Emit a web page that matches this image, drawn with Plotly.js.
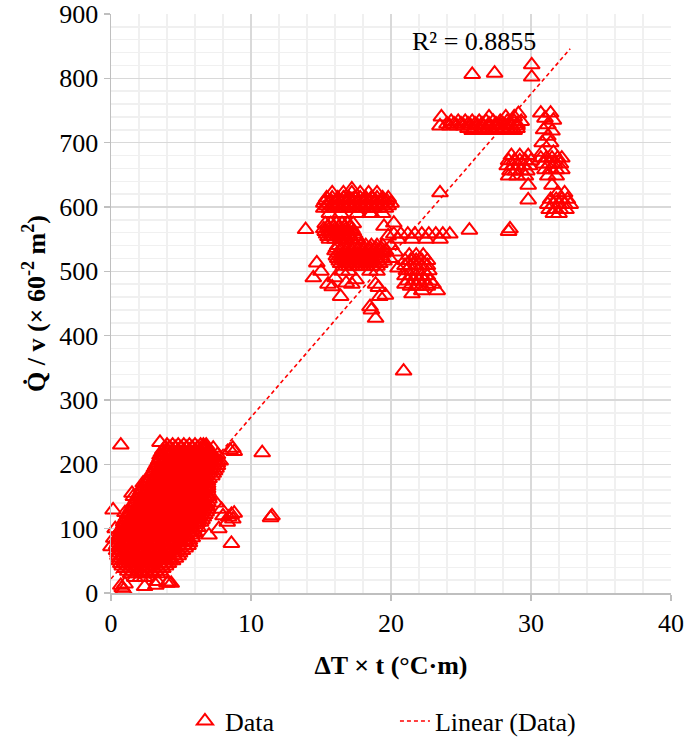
<!DOCTYPE html>
<html>
<head>
<meta charset="utf-8">
<script src="https://cdn.plot.ly/plotly-3.0.1.min.js"></script>
<style>html,body{margin:0;padding:0;background:#fff;}#chart{width:685px;height:738px;}</style>
</head>
<body>
<div id="chart"></div>
<script>
// ---- Data ----
// Dense low cluster, stored as rows: y value and the x values on that row
const lowRowY = [230,222,214,206,198,190,182,174,166,158,150,142,134,126,118,110,102,94,86,78,70,62,54,46,38,30,24,
                 226,218,210,202,194,186,178,170,162,154,146,138,130,122,114,106,98,90,82,74,66,58,50,42,34];
const lowRowX = [
  [4.0,4.4,4.8,5.2,5.6,6.0,6.4,6.6],
  [3.7,4.0,4.4,4.8,5.2,5.6,6.0,6.4,6.8,7.0],
  [3.5,3.8,4.2,4.6,5.0,5.4,5.8,6.2,6.6,7.0,7.3],
  [3.4,3.8,4.2,4.6,5.0,5.4,5.8,6.2,6.6,7.0,7.4,7.6],
  [3.2,3.6,4.0,4.4,4.8,5.2,5.6,6.0,6.4,6.8,7.2,7.6],
  [3.0,3.4,3.8,4.2,4.6,5.0,5.4,5.8,6.2,6.6,7.0,7.4],
  [2.8,3.2,3.6,4.0,4.4,4.8,5.2,5.6,6.0,6.4,6.8,7.2],
  [2.6,3.0,3.4,3.8,4.2,4.6,5.0,5.4,5.8,6.2,6.6,6.9],
  [2.3,2.7,3.1,3.5,3.9,4.3,4.7,5.1,5.5,5.9,6.3,6.7,6.9],
  [2.1,2.5,2.9,3.3,3.7,4.1,4.5,4.9,5.3,5.7,6.1,6.5,6.9],
  [1.9,2.3,2.7,3.1,3.5,3.9,4.3,4.7,5.1,5.5,5.9,6.3,6.7,7.0],
  [1.7,2.1,2.5,2.9,3.3,3.7,4.1,4.5,4.9,5.3,5.7,6.1,6.5,6.9],
  [1.5,1.9,2.3,2.7,3.1,3.5,3.9,4.3,4.7,5.1,5.5,5.9,6.3,6.7,6.9],
  [1.3,1.7,2.1,2.5,2.9,3.3,3.7,4.1,4.5,4.9,5.3,5.7,6.1,6.5,6.8],
  [1.1,1.5,1.9,2.3,2.7,3.1,3.5,3.9,4.3,4.7,5.1,5.5,5.9,6.3,6.6],
  [0.9,1.3,1.7,2.1,2.5,2.9,3.3,3.7,4.1,4.5,4.9,5.3,5.7,6.1,6.4],
  [0.8,1.2,1.6,2.0,2.4,2.8,3.2,3.6,4.0,4.4,4.8,5.2,5.6,6.0,6.2],
  [0.7,1.1,1.5,1.9,2.3,2.7,3.1,3.5,3.9,4.3,4.7,5.1,5.5,5.9,6.0],
  [0.6,1.0,1.4,1.8,2.2,2.6,3.0,3.4,3.8,4.2,4.6,5.0,5.4,5.8],
  [0.5,0.9,1.3,1.7,2.1,2.5,2.9,3.3,3.7,4.1,4.5,4.9,5.3,5.6],
  [0.5,0.9,1.3,1.7,2.1,2.5,2.9,3.3,3.7,4.1,4.5,4.9,5.3],
  [0.5,0.9,1.3,1.7,2.1,2.5,2.9,3.3,3.7,4.1,4.5,4.9],
  [0.6,1.0,1.4,1.8,2.2,2.6,3.0,3.4,3.8,4.2,4.6],
  [0.7,1.1,1.5,1.9,2.3,2.7,3.1,3.5,3.9,4.1],
  [1.0,1.4,1.8,2.2,2.6,3.0,3.4,3.7],
  [1.4,1.8,2.2,2.6,3.0,3.3],
  [1.7,2.1,2.4],
  [3.9,4.2,4.6,5.0,5.4,5.8,6.2,6.6,6.8],
  [3.6,4.0,4.4,4.8,5.2,5.6,6.0,6.4,6.8,7.1],
  [3.5,3.9,4.3,4.7,5.1,5.5,5.9,6.3,6.7,7.1,7.4],
  [3.3,3.7,4.1,4.5,4.9,5.3,5.7,6.1,6.5,6.9,7.3,7.6],
  [3.1,3.5,3.9,4.3,4.7,5.1,5.5,5.9,6.3,6.7,7.1,7.5],
  [2.9,3.3,3.7,4.1,4.5,4.9,5.3,5.7,6.1,6.5,6.9,7.3],
  [2.7,3.1,3.5,3.9,4.3,4.7,5.1,5.5,5.9,6.3,6.7,7.0],
  [2.5,2.9,3.3,3.7,4.1,4.5,4.9,5.3,5.7,6.1,6.5,6.9],
  [2.2,2.6,3.0,3.4,3.8,4.2,4.6,5.0,5.4,5.8,6.2,6.6,6.9],
  [2.0,2.4,2.8,3.2,3.6,4.0,4.4,4.8,5.2,5.6,6.0,6.4,6.8],
  [1.8,2.2,2.6,3.0,3.4,3.8,4.2,4.6,5.0,5.4,5.8,6.2,6.6,7.0],
  [1.6,2.0,2.4,2.8,3.2,3.6,4.0,4.4,4.8,5.2,5.6,6.0,6.4,6.8],
  [1.4,1.8,2.2,2.6,3.0,3.4,3.8,4.2,4.6,5.0,5.4,5.8,6.2,6.6,6.9],
  [1.2,1.6,2.0,2.4,2.8,3.2,3.6,4.0,4.4,4.8,5.2,5.6,6.0,6.4,6.7],
  [1.0,1.4,1.8,2.2,2.6,3.0,3.4,3.8,4.2,4.6,5.0,5.4,5.8,6.2,6.5],
  [0.9,1.3,1.7,2.1,2.5,2.9,3.3,3.7,4.1,4.5,4.9,5.3,5.7,6.1],
  [0.7,1.1,1.5,1.9,2.3,2.7,3.1,3.5,3.9,4.3,4.7,5.1,5.5,5.9],
  [0.6,1.0,1.4,1.8,2.2,2.6,3.0,3.4,3.8,4.2,4.6,5.0,5.4,5.8],
  [0.5,0.9,1.3,1.7,2.1,2.5,2.9,3.3,3.7,4.1,4.5,4.9,5.3,5.6],
  [0.4,0.8,1.2,1.6,2.0,2.4,2.8,3.2,3.6,4.0,4.4,4.8,5.2,5.5],
  [0.4,0.8,1.2,1.6,2.0,2.4,2.8,3.2,3.6,4.0,4.4,4.8,5.1],
  [0.5,0.9,1.3,1.7,2.1,2.5,2.9,3.3,3.7,4.1,4.5,4.8],
  [0.6,1.0,1.4,1.8,2.2,2.6,3.0,3.4,3.8,4.2,4.4],
  [0.8,1.2,1.6,2.0,2.4,2.8,3.2,3.6,3.9],
  [1.2,1.6,2.0,2.4,2.8,3.2,3.5]
];
// Scattered points around the low cluster
const lowX = [0.7,3.5,8.5,8.7,8.8,10.8,11.4,11.5,8.4,8.6,8.7,8.8,8.3,8.6,0.15,0.0,0.7,0.8,1.0,0.9,2.4,3.2,3.3,4.0,4.1,4.3,1.5,2.3,2.5,1.6,7.6,7.8,7.5,7.9,8.0,7.7,7.0,0.3,0.2,1.0,5.7,6.2,7.3,6.8];
const lowY = [230,234,222,225,220,218,117,120,118,122,115,124,110,77,129,72,12,8,14,5,10,12,18,15,17,15,155,171,173,150,215,205,140,130,120,100,90,100,85,125,95,110,225,230];

// Middle clusters (rows)
const midRowY = [622,614,606,598,590,574,566,558,550,540,532,524,516,508,500,525,517,509,501,493,485,477,558,550,
                 610,602,570,562,554,536,528,520,512];
const midRowX = [
  [15.8,16.6,17.2,17.8,18.4,19.0],
  [15.4,15.8,16.2,16.6,17.0,17.4,17.8,18.2,18.6,19.0,19.4,19.8],
  [15.2,15.6,16.0,16.4,16.8,17.2,17.6,18.0,18.4,18.8,19.2,19.6,20.0],
  [15.2,15.6,16.0,16.4,16.8,17.2,17.6,18.0,18.4,18.8,19.2,19.6],
  [15.6,16.4,17.6,18.6,19.4],
  [15.3,15.7,16.1,16.5,16.9,17.3],
  [15.2,15.6,16.0,16.4,16.8,17.2],
  [15.4,15.8,16.2,16.6,17.0,17.4],
  [15.6,16.0,16.4,16.8,17.2,17.6],
  [16.2,16.6,17.0,17.4,17.8,18.2,18.6,19.0,19.4],
  [16.0,16.4,16.8,17.2,17.6,18.0,18.4,18.8,19.2,19.6],
  [16.1,16.5,16.9,17.3,17.7,18.1,18.5,18.9,19.3],
  [16.3,16.7,17.1,17.5,17.9,18.3,18.7,19.1,19.5],
  [16.6,17.0,17.4,17.8,18.2,18.6,19.0],
  [16.5,17.0,18.5,19.0],
  [21.3,21.8,22.3],
  [21.0,21.4,21.8,22.2,22.6],
  [21.0,21.4,21.8,22.2,22.6],
  [21.1,21.5,21.9,22.3,22.7],
  [21.0,21.4,21.8,22.2,22.6],
  [21.2,21.6,22.0,22.4,22.8],
  [21.4,21.8,22.2,22.6],
  [20.2,20.7,21.2,21.7,22.2,22.7,23.2,23.7,24.2],
  [20.5,21.5,22.5,23.5],
  [15.3,15.7,16.1,16.5,16.9,17.3,17.7,18.1,18.5,18.9,19.3,19.7],
  [15.4,15.8,16.2,16.6,17.0,17.4,17.8,18.2,18.6,19.0,19.4,19.8],
  [15.5,15.9,16.3,16.7,17.1],
  [15.3,15.7,16.1,16.5,16.9,17.3],
  [15.5,15.9,16.3,16.7,17.1,17.5],
  [16.1,16.5,16.9,17.3,17.7,18.1,18.5,18.9,19.3],
  [16.2,16.6,17.0,17.4,17.8,18.2,18.6,19.0,19.4],
  [16.2,16.6,17.0,17.4,17.8,18.2,18.6,19.0,19.4],
  [16.4,16.8,17.2,17.6,18.0,18.4,18.8,19.2]
];
const midX = [13.9,14.7,14.45,15.0,15.8,16.4,16.8,17.5,15.5,16.0,18.5,18.9,19.2,19.6,19.1,17.2,18.6,19.8,20.0,20.3,19.9,19.5,20.2,18.9,20.5,21.0,23.0,23.3,21.5,22.2,18.5,20.9,17.2];
const midY = [565,513,490,500,476,461,482,487,480,490,445,427,461,463,475,480,440,555,540,530,520,570,575,480,505,480,480,470,465,470,590,345,628];

// Upper clusters (rows)
const highRowY = [740,733,726,719,680,672,664,656,648,685,676,667,658,648,622,612,604,596,590,729,722];
const highRowX = [
  [23.6,27.0,28.2,28.8],
  [24.3,24.8,25.3,25.8,26.3,26.8,27.3,27.8,28.3,28.8,29.3],
  [23.5,24.2,24.7,25.2,25.7,26.2,26.6,27.0,27.4,27.8,28.2,28.6,29.0],
  [25.8,26.4,26.8,27.2,27.6,28.0,28.4,28.8],
  [28.6,29.2,29.8],
  [28.4,28.8,29.2,29.6,30.0],
  [28.3,28.7,29.1,29.5,29.9],
  [28.5,28.9,29.3,29.7],
  [28.4,29.0,29.6],
  [30.8,31.6],
  [30.7,31.1,31.5,31.9,32.2],
  [30.9,31.3,31.7,32.1],
  [31.0,31.4,31.8,32.2],
  [31.2,31.8],
  [31.9,32.4],
  [31.4,31.8,32.2,32.6],
  [31.2,31.6,32.0,32.4,32.8],
  [31.3,31.7,32.1,32.5],
  [31.6,32.0],
  [24.0,24.5,25.0,25.5,26.0,26.5,27.0,27.5,28.0,28.5,29.0],
  [25.5,26.0,26.5,27.0,27.5,28.0,28.5,29.0]
];
const highX = [25.8,27.4,30.05,30.05,23.5,25.6,28.4,28.5,29.8,29.8,31.5,30.7,31.4,31.0,31.6,31.2,30.9,31.5,31.2,31.4,30.8,29.1];
const highY = [806,808,821,802,622,564,562,566,634,611,634,746,746,738,735,728,720,718,710,700,700,745];

// Linear trend line (end points) and R²
const trendX = [0, 32.8];
const trendY = [22, 846];
const r2Text = 'R² = 0.8855';

// ---- Build the scatter series ----
function flatten(rowY, rowX, x, y) {
  rowY.forEach((yy, i) => rowX[i].forEach(xx => { x.push(xx); y.push(yy); }));
}
const dataX = [], dataY = [];
flatten(lowRowY, lowRowX, dataX, dataY);
flatten(midRowY, midRowX, dataX, dataY);
flatten(highRowY, highRowX, dataX, dataY);
dataX.push(...lowX, ...midX, ...highX);
dataY.push(...lowY, ...midY, ...highY);

const FONT = '"Liberation Serif", "Times New Roman", serif';
const red = '#ff0000';

const traces = [
  {
    type: 'scatter', mode: 'markers', name: 'Data',
    x: dataX, y: dataY, cliponaxis: false,
    marker: {symbol: 'triangle-up-open', size: 14, color: red, line: {color: red, width: 2}}
  },
  {
    type: 'scatter', mode: 'lines', name: 'Linear (Data)',
    x: trendX, y: trendY,
    line: {color: red, width: 1.6, dash: '4px,3px'}
  }
];

const axisCommon = {
  showgrid: true, gridcolor: '#d9d9d9', gridwidth: 1.5,
  showline: true, linecolor: '#bfbfbf', linewidth: 1.5,
  ticks: 'outside', ticklen: 6, tickcolor: '#bfbfbf', tickwidth: 1.5,
  zeroline: false, fixedrange: true,
  tickfont: {family: FONT, size: 26, color: '#000'}
};

const layout = {
  width: 685, height: 738,
  margin: {l: 111, r: 14, t: 14, b: 145},
  paper_bgcolor: '#fff', plot_bgcolor: '#fff',
  font: {family: FONT, size: 26, color: '#000'},
  xaxis: Object.assign({}, axisCommon, {
    range: [0, 40], tick0: 0, dtick: 10,
    minor: {dtick: 2, showgrid: true, gridcolor: '#f0f0f0', gridwidth: 1.5},
    title: {text: '<b>ΔT × t (°C·m)</b>', font: {family: FONT, size: 26, color: '#000'}, standoff: 19}
  }),
  yaxis: Object.assign({}, axisCommon, {
    range: [0, 900], tick0: 0, dtick: 100,
    minor: {dtick: 20, showgrid: true, gridcolor: '#f0f0f0', gridwidth: 1.5},
    title: {text: '<b>Q\u0307 / v (× 60<sup>-2</sup> m<sup>2</sup>)</b>\u00A0\u00A0\u00A0\u00A0\u00A0\u00A0', font: {family: FONT, size: 26, color: '#000'}, standoff: 6}
  }),
  showlegend: true,
  legend: {
    orientation: 'h', xref: 'container', yref: 'container',
    x: 0.27, xanchor: 'left', y: 0.023, yanchor: 'middle',
    font: {family: FONT, size: 26, color: '#000'},
    entrywidth: 165, entrywidthmode: 'pixels', traceorder: 'normal',
    bgcolor: 'rgba(0,0,0,0)'
  },
  annotations: [{
    x: 25.96, y: 857, xref: 'x', yref: 'y', text: r2Text, showarrow: false,
    font: {family: FONT, size: 26, color: '#000'}
  }]
};

Plotly.newPlot('chart', traces, layout, {staticPlot: true, displayModeBar: false});
</script>
</body>
</html>
